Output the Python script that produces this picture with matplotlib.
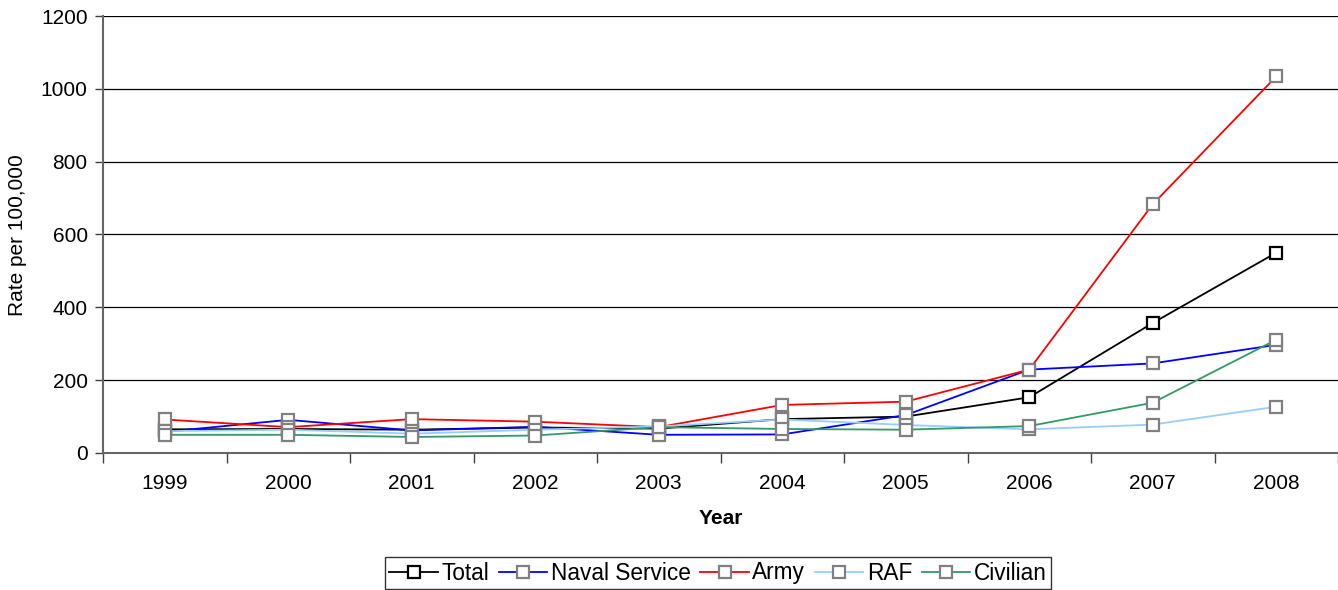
import matplotlib
matplotlib.use("Agg")
import matplotlib.pyplot as plt
from matplotlib.ticker import FixedLocator, NullFormatter

plt.rcParams['font.family'] = ['Liberation Sans', 'DejaVu Sans']

years = ['1999', '2000', '2001', '2002', '2003', '2004', '2005', '2006', '2007', '2008']
total = [65, 66, 64, 70, 67, 93, 100, 153, 357, 550]
naval = [58, 91, 62, 72, 50, 51, 104, 229, 246, 297]
army = [92, 71, 93, 86, 71, 132, 141, 229, 683, 1034]
raf = [60, 64, 53, 64, 73, 92, 77, 65, 78, 127]
civilian = [50, 50, 44, 48, 71, 66, 64, 74, 138, 311]

series = [
    ('Total', total, '#000000', '#000000'),
    ('Naval Service', naval, '#0000FF', '#808080'),
    ('Army', army, '#FF0000', '#808080'),
    ('RAF', raf, '#99CCFF', '#808080'),
    ('Civilian', civilian, '#339966', '#808080'),
]

W, H = 1338, 590
fig = plt.figure(figsize=(W / 100, H / 100), dpi=100)
ax = fig.add_axes([103 / W, 1 - 453 / H, (1338 - 103) / W, (453 - 16) / H])

x = list(range(len(years)))
for name, vals, col, edge in series:
    ax.plot(x, vals, color=col, lw=1.3, marker='s', ms=8.5,
            mfc='white', mec=edge, mew=1.6, label=name, clip_on=False)

ax.set_xlim(-0.5, len(years) - 0.5)
ax.set_ylim(0, 1200)
ax.set_yticks(range(0, 1201, 200))
ax.yaxis.grid(True, color='black', lw=0.9)
ax.set_axisbelow(True)

ax.set_xticks(x)
ax.set_xticklabels(years)
ax.xaxis.set_minor_locator(FixedLocator([i - 0.5 for i in range(len(years) + 1)]))
ax.xaxis.set_minor_formatter(NullFormatter())
ax.tick_params(axis='x', which='major', length=0, pad=15, labelsize=15)
ax.tick_params(axis='x', which='minor', length=7, width=1.0, color='#404040')
ax.tick_params(axis='y', length=6, width=1.0, color='#404040', labelsize=15, pad=5)

for s in ['top', 'right']:
    ax.spines[s].set_visible(False)
for s in ['left', 'bottom']:
    ax.spines[s].set_color('#666666')
    ax.spines[s].set_linewidth(1.5)

ax.set_xlabel('Year', fontsize=15, fontweight='bold')
ax.xaxis.set_label_coords(0.5, -(519 - 453) / (453 - 16), transform=ax.transAxes)
ax.xaxis.label.set_va('center')
ax.set_ylabel('Rate per 100,000', fontsize=15)
ax.yaxis.set_label_coords(-(103 - 18) / (1338 - 103), (453 - 235) / (453 - 16))
ax.yaxis.label.set_va('center')

leg = fig.legend(loc='center', bbox_to_anchor=(718 / W, 1 - 573 / H), ncol=5,
                 frameon=True, fancybox=False, edgecolor='black', fontsize=16.3,
                 handlelength=2.15, handletextpad=0.15, columnspacing=0.42,
                 borderpad=0.2, borderaxespad=0)
leg.get_frame().set_linewidth(1.0)

fig.savefig('out.png', dpi=100)
